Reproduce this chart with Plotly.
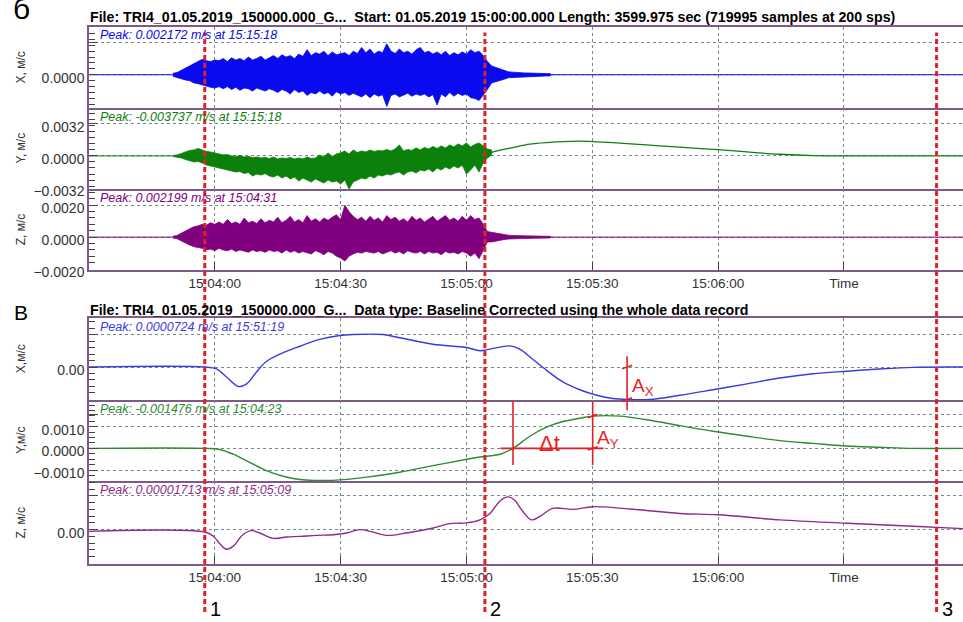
import plotly.graph_objects as go

# time axis: seconds after 15:00:00
T0, T1 = 210.0, 418.4
tick_t = [240, 270, 300, 330, 360, 390]
tick_labels = ["15:04:00", "15:04:30", "15:05:00", "15:05:30", "15:06:00", "Time"]

# red dashed picks
pick_t = [237.6, 304.4, 412.1]
pick_labels = ["1", "2", "3"]

# ---- panel A: raw records, per-second envelope (mm/s) ----
env_t = list(range(230, 321))
ax_hi = [0.1, 0.15, 0.3, 0.45, 0.55, 0.75, 0.9, 1.05, 0.95, 0.9,
         1.0, 0.95, 1.1, 0.9, 1.15, 1.0, 1.1, 0.95, 1.2, 1.0,
         1.1, 1.25, 1.0, 1.15, 1.3, 1.1, 1.35, 1.2, 1.3, 1.1,
         1.4, 1.25, 1.7, 1.3, 1.5, 1.4, 1.6, 1.3, 1.55, 1.35,
         1.45, 1.5, 1.3, 1.6, 1.45, 1.85, 1.5, 1.75, 1.4, 1.6,
         1.5, 2.1, 1.6, 1.45, 1.75, 1.5, 1.6, 1.4, 1.7, 1.85,
         1.5, 1.6, 1.4, 1.55, 1.35, 1.6, 1.3, 1.5, 1.35, 1.55,
         1.4, 1.7, 1.5, 1.6, 1.3, 0.9, 0.6, 0.5, 0.4, 0.35,
         0.2, 0.18, 0.15, 0.14, 0.12, 0.12, 0.1, 0.1, 0.09, 0.08,
         0.08]
ax_lo = [-0.1, -0.15, -0.25, -0.35, -0.4, -0.55, -0.6, -0.7, -0.75, -0.85,
         -0.9, -0.8, -0.95, -0.8, -1.0, -0.85, -1.05, -0.9, -0.95, -1.1,
         -0.9, -1.0, -1.1, -0.95, -1.05, -1.2, -1.0, -1.1, -1.3, -1.0,
         -1.2, -1.1, -1.4, -1.2, -1.3, -1.1, -1.3, -1.2, -1.45, -1.15,
         -1.3, -1.2, -1.4, -1.25, -1.35, -1.5, -1.3, -1.55, -1.3, -1.45,
         -1.35, -2.15, -1.4, -1.3, -1.5, -1.35, -1.25, -1.45, -1.3, -1.4,
         -1.3, -1.5, -1.35, -2.05, -1.3, -1.5, -1.2, -1.45, -1.25, -1.4,
         -1.3, -1.55, -1.6, -1.75, -1.4, -1.0, -0.55, -0.45, -0.4, -0.3,
         -0.2, -0.18, -0.15, -0.14, -0.12, -0.1, -0.1, -0.1, -0.09, -0.08,
         -0.08]

ay_t = list(range(230, 307))
ay_hi = [0.05, 0.1, 0.25, 0.4, 0.55, 0.6, 0.75, 0.6, 0.45, 0.4,
         0.3, 0.2, 0.1, 0.15, 0.0, -0.05, 0.05, -0.1, -0.05, -0.15,
         -0.1, -0.2, -0.15, -0.25, -0.1, -0.3, -0.2, -0.25, -0.15, -0.3,
         -0.2, -0.3, -0.1, -0.25, -0.2, 0.1, -0.1, 0.3, -0.05, 0.2,
         0.3, 0.5, 0.2, 0.6, 0.35, 0.5, 0.4, 0.6, 0.45, 0.55,
         0.5, 0.65, 0.5, 0.7, 1.1, 0.5, 0.65, 0.55, 0.8, 0.6,
         0.85, 0.7, 0.95, 0.75, 1.0, 0.8, 1.1, 0.9, 1.2, 1.0,
         1.3, 0.9, 1.15, 1.3, 1.0, 0.7, 0.6]
ay_lo = [-0.05, -0.1, -0.2, -0.35, -0.5, -0.6, -0.55, -0.7, -0.9, -1.0,
         -1.1, -1.2, -1.3, -1.4, -1.5, -1.6, -1.55, -1.75, -1.65, -2.0,
         -1.8, -1.9, -1.75, -2.0, -2.1, -1.9, -2.2, -2.0, -2.3, -2.1,
         -2.5, -2.2, -2.4, -2.6, -2.3, -2.5, -2.7, -2.4, -2.6, -2.5,
         -2.8, -2.4, -3.3, -2.6, -2.4, -2.2, -2.3, -2.0, -2.2, -1.9,
         -2.0, -1.8, -1.9, -1.7, -1.6, -1.9, -1.6, -1.5, -1.7, -1.4,
         -1.5, -1.3, -1.6, -1.2, -1.4, -1.1, -1.3, -1.0, -1.2, -0.9,
         -1.8, -1.4, -0.9, -1.6, -0.7, -0.2, 0.1]
ay_tail_t = [306, 308, 311, 315.1, 319.2, 326.3, 330.1, 334.9, 343.0, 350.9,
             360.0, 366.9, 374.7, 382.6, 391.4, 418.4]
ay_tail = [0.35, 0.57, 0.83, 1.17, 1.33, 1.47, 1.43, 1.33, 1.1, 0.87,
           0.63, 0.4, 0.17, 0.03, 0.0, 0.0]

az_hi = [0.05, 0.1, 0.25, 0.4, 0.55, 0.65, 0.7, 0.8, 0.75, 0.9,
         0.8, 0.95, 0.8, 1.1, 0.85, 0.95, 0.8, 1.2, 0.9, 1.0,
         0.85, 1.15, 0.9, 1.05, 0.95, 1.25, 0.9, 1.05, 1.3, 0.95,
         1.1, 0.9, 1.35, 1.0, 1.15, 0.95, 1.2, 1.05, 1.25, 1.4,
         1.1, 2.0, 1.6, 1.3, 1.1, 1.25, 1.0, 1.3, 1.05, 1.2,
         0.95, 1.35, 1.1, 1.25, 1.0, 1.15, 0.95, 1.3, 1.05, 1.2,
         0.95, 1.1, 1.3, 1.0, 1.15, 1.35, 1.05, 1.2, 1.0, 1.3,
         1.05, 1.35, 1.1, 1.2, 0.8, 0.35, 0.3, 0.25, 0.2, 0.15,
         0.12, 0.1, 0.1, 0.09, 0.08, 0.08, 0.07, 0.06, 0.06, 0.05,
         0.05]
az_lo = [-0.05, -0.1, -0.2, -0.35, -0.5, -0.6, -0.65, -0.7, -0.8, -0.75,
         -0.85, -0.7, -0.8, -0.85, -0.75, -0.9, -0.8, -0.85, -0.95, -0.8,
         -0.9, -0.85, -0.95, -0.8, -0.9, -0.85, -1.0, -0.8, -0.95, -0.85,
         -1.0, -0.9, -0.95, -1.05, -0.85, -0.95, -1.1, -0.9, -1.0, -1.2,
         -1.3, -1.5, -1.2, -1.05, -0.95, -1.0, -0.9, -0.95, -1.0, -0.9,
         -1.05, -0.95, -0.85, -1.0, -0.9, -1.05, -0.85, -0.95, -1.0, -0.9,
         -1.05, -0.9, -1.0, -0.95, -1.1, -0.9, -1.0, -0.95, -1.05, -0.9,
         -1.0, -1.2, -1.0, -1.35, -0.8, -0.3, -0.3, -0.25, -0.2, -0.15,
         -0.12, -0.1, -0.1, -0.09, -0.08, -0.08, -0.07, -0.06, -0.06, -0.05,
         -0.05]

# ---- panel B: baseline corrected ----
bx_t = [210, 237.6, 240.4, 242.8, 245.6, 247.6, 249.9, 252.3, 256.3, 260.3,
        265.0, 269.8, 272.9, 280.1, 284.1, 292.0, 300.1, 303.2, 305.6, 310.4,
        312.7, 315.8, 319.2, 323.0, 327.0, 331.1, 334.9, 338.3, 343.7, 350.9,
        358.8, 366.9, 374.7, 382.6, 390.7, 398.6, 406.5, 418.4]
bx_v = [0, 0, -0.06, -0.31, -0.6, -0.52, -0.16, 0.17, 0.44, 0.64,
        0.85, 0.97, 1.0, 1.0, 0.9, 0.7, 0.6, 0.5, 0.55, 0.65,
        0.55, 0.24, -0.11, -0.46, -0.7, -0.87, -0.97, -1.0, -1.0, -0.87,
        -0.7, -0.52, -0.34, -0.21, -0.13, -0.06, -0.01, 0]

by_t = [210, 237.6, 241.2, 244.4, 248.3, 252.3, 256.3, 260.3, 264.3, 268.1,
        276.2, 284.1, 292.0, 300.1, 303.2, 308.0, 311.1, 315.1, 319.2, 323.0,
        327.0, 330.1, 336.6, 343.0, 350.9, 358.8, 366.9, 374.7, 382.6, 390.7,
        398.6, 406.5, 418.4]
by_v = [0, 0, -0.05, -0.27, -0.65, -1.03, -1.29, -1.44, -1.48, -1.48,
        -1.33, -1.10, -0.80, -0.50, -0.40, -0.27, 0.0, 0.56, 0.99, 1.24,
        1.39, 1.49, 1.49, 1.32, 1.05, 0.79, 0.56, 0.36, 0.23, 0.11,
        0.05, 0, 0]

bz_t = [210, 237.6, 239.6, 241.2, 242.8, 244.4, 246.7, 248.8, 250.7, 253.9,
        257.1, 260.3, 264.3, 268.2, 271.4, 274.6, 277.0, 281.0, 285.7, 292.1,
        296.0, 300.0, 303.2, 305.6, 308.0, 309.9, 311.5, 313.5, 315.5, 317.5,
        320.6, 325.4, 330.2, 339.0, 350.9, 360.0, 374.7, 390.7, 406.6, 418.4]
bz_v = [-0.05, -0.07, -0.19, -0.42, -0.58, -0.49, -0.15, -0.03, -0.1, -0.26,
        -0.22, -0.2, -0.17, -0.15, -0.10, 0.0, -0.05, -0.17, -0.10, 0.05,
        0.18, 0.2, 0.29, 0.48, 0.85, 0.97, 0.87, 0.53, 0.29, 0.39,
        0.63, 0.60, 0.68, 0.61, 0.48, 0.44, 0.29, 0.19, 0.10, 0.03]

# tick labels per channel (values in mm/s, labels in m/s)
y_tickvals = [[0, 2.2], [-3.2, 0, 3.2], [-2, 0, 2],
              [0, 1], [-1, 0, 1, 1.55], [0, 1]]
y_ticktext = [["0.0000", ""], ["\u22120.0032", "0.0000", "0.0032"],
              ["\u22120.0020", "0.0000", "0.0020"],
              ["0.00", ""], ["\u22120.0010", "0.0000", "0.0010", ""], ["0.00", ""]]
y_titles = ["X, м/с", "Y, м/с", "Z, м/с", "X,м/с", "Y,м/с", "Z, м/с"]
peak_texts = ["Peak: 0.002172 m/s at 15:15:18", "Peak: -0.003737 m/s at 15:15:18",
              "Peak: 0.002199 m/s at 15:04:31", "Peak: 0.0000724 m/s at 15:51:19",
              "Peak: -0.001476 m/s at 15:04:23", "Peak: 0.00001713 m/s at 15:05:09"]
title_a = "File: TRI4_01.05.2019_150000.000_G...  Start: 01.05.2019 15:00:00.000 Length: 3599.975 sec (719995 samples at 200 sps)"
title_b = "File: TRI4_01.05.2019_150000.000_G...  Data type: Baseline Corrected using the whole data record"

# ---- layout geometry (pixels) ----
W, H, L = 963, 622, 89
panel_px = [(27, 110), (110, 192), (192, 274), (323, 407), (407, 489), (489, 573)]
zero_px = [76, 158.5, 241, 373, 455.7, 538.3]
px_unit = [15, 10.2, 16.25, 33, 22, 34.3]
minor_dt = [0.4, 0.6, 0.4, 0.2, 0.25, 0.2]

raw_col = ["#0a0aee", "#0b800b", "#800080"]
cor_col = ["#3a3ae0", "#2e8b2e", "#8e2a8e"]
RED = "#e41f26"
FRAME = "#7d5a8a"
GRID = "#6f8a8a"
FONT = "Liberation Sans, Arial, sans-serif"


def py(px):
    return 1 - px / H


def val_px(i, v):
    return zero_px[i] - v * px_unit[i]


def band(t, hi, lo):
    # closed outline of the record's envelope
    return list(t) + list(t)[::-1], list(hi) + list(lo)[::-1]


fig = go.Figure()

for k, (tt, hi, lo, end) in enumerate([(env_t, ax_hi, ax_lo, T1),
                                       (ay_t, ay_hi, ay_lo, env_t[0]),
                                       (env_t, az_hi, az_lo, T1)]):
    n = "" if k == 0 else str(k + 1)
    fig.add_trace(go.Scatter(x=[T0, end], y=[0, 0], mode="lines",
                             line=dict(color=raw_col[k], width=1),
                             xaxis="x" + n, yaxis="y" + n))
    bx, by = band(tt, hi, lo)
    fig.add_trace(go.Scatter(x=bx, y=by, mode="lines", fill="toself",
                             fillcolor=raw_col[k], line=dict(color=raw_col[k], width=0.8),
                             xaxis="x" + n, yaxis="y" + n))
fig.add_trace(go.Scatter(x=ay_tail_t, y=ay_tail, mode="lines", line_shape="spline",
                         line=dict(color=raw_col[1], width=1.3), xaxis="x2", yaxis="y2"))

for k, (tt, vv) in enumerate([(bx_t, bx_v), (by_t, by_v), (bz_t, bz_v)]):
    n = k + 4
    fig.add_trace(go.Scatter(x=tt, y=vv, mode="lines", line_shape="spline",
                             line=dict(color=cor_col[k], width=1.4),
                             xaxis="x%d" % n, yaxis="y%d" % n))

layout = dict(width=W, height=H, margin=dict(l=L, r=0, t=0, b=0),
              paper_bgcolor="white", plot_bgcolor="white", showlegend=False,
              font=dict(family=FONT, color="#333333"))
for i in range(6):
    n = "" if i == 0 else str(i + 1)
    top, bot = panel_px[i]
    bottom_row = i in (2, 5)
    layout["xaxis" + n] = dict(
        domain=[0, 1], range=[T0, T1], anchor="y" + n,
        tickmode="array", tickvals=tick_t, ticktext=tick_labels,
        showticklabels=bottom_row, ticks="inside" if bottom_row else "",
        ticklen=8, tickcolor="#444444", tickfont=dict(size=13.5, color="#333333"),
        showgrid=True, gridcolor=GRID, griddash="dot", gridwidth=1,
        showline=True, mirror=i in (0, 3), linecolor=FRAME, linewidth=1.5,
        zeroline=False)
    layout["yaxis" + n] = dict(
        domain=[py(bot), py(top)], anchor="x" + n,
        range=[-(bot - zero_px[i]) / px_unit[i], (zero_px[i] - top) / px_unit[i]],
        tickmode="array", tickvals=y_tickvals[i], ticktext=y_ticktext[i],
        ticks="inside", ticklen=9, tickcolor="#444444", ticklabelshift=3,
        tickfont=dict(size=14, color="#333333"),
        minor=dict(tickmode="linear", tick0=0, dtick=minor_dt[i], ticks="inside",
                   ticklen=6, tickcolor="#444444", showgrid=False),
        showgrid=True, gridcolor=GRID, griddash="dot", gridwidth=1,
        showline=True, mirror=False, linecolor=FRAME, linewidth=1.5, zeroline=False)
fig.update_layout(**layout)

ann = []
for i in range(6):
    top, bot = panel_px[i]
    ann.append(dict(text=y_titles[i], xref="paper", yref="paper", x=-(L - 21) / (W - L),
                    y=py((top + bot) / 2), xanchor="center", yanchor="middle",
                    textangle=-90, showarrow=False, font=dict(size=12, color="#333333")))
    col = raw_col[i] if i < 3 else cor_col[i - 3]
    ann.append(dict(text="<i>%s</i>" % peak_texts[i], xref="paper", yref="paper",
                    x=9 / (W - L), y=py(top + 9), xanchor="left", yanchor="middle",
                    showarrow=False, font=dict(size=12.5, color=col)))
ann.append(dict(text="<b>%s</b>" % title_a, xref="paper", yref="paper", x=-1 / (W - L),
                y=py(17), xanchor="left", yanchor="middle", showarrow=False,
                font=dict(size=14.2, color="black")))
ann.append(dict(text="<b>%s</b>" % title_b, xref="paper", yref="paper", x=-1 / (W - L),
                y=py(315), xanchor="left", yanchor="middle", showarrow=False,
                font=dict(size=14.2, color="black")))
ann.append(dict(text="б", xref="paper", yref="paper", x=-(L - 21) / (W - L), y=py(9),
                xanchor="center", yanchor="middle", showarrow=False,
                font=dict(size=30, color="black")))
ann.append(dict(text="B", xref="paper", yref="paper", x=-(L - 21) / (W - L), y=py(318),
                xanchor="center", yanchor="middle", showarrow=False,
                font=dict(size=21, color="black")))

shapes = []
for t, lab in zip(pick_t, pick_labels):
    shapes.append(dict(type="line", xref="x", yref="paper", x0=t, x1=t, y0=0, y1=py(33),
                       line=dict(color=RED, width=3, dash="5px,3px")))
    ann.append(dict(text=lab, xref="x", yref="paper", x=t, xshift=11, y=py(619),
                    xanchor="center", yanchor="middle", showarrow=False,
                    font=dict(size=20, color="black")))

# Ax, Ay and dt marks on the corrected records
i_min = bx_v.index(min(bx_v))
t_ax = bx_t[i_min]
i_max = by_v.index(max(by_v))
t_ay = by_t[i_max]
t_zero = next(by_t[k] for k in range(by_v.index(min(by_v)), len(by_v)) if by_v[k] >= 0)
red = dict(color=RED, width=1.6)


def vline(xr, t, p0, p1):
    shapes.append(dict(type="line", xref=xr, yref="paper", x0=t, x1=t,
                       y0=py(p0), y1=py(p1), line=red))


def tickmark(xr, t, p):
    shapes.append(dict(type="line", xref=xr, yref="paper", x0=t - 1.2, x1=t + 1.2,
                       y0=py(p + 1.7), y1=py(p - 1.7), line=red))


vline("x4", t_ax, val_px(3, 0) - 11, val_px(3, bx_v[i_min]) + 11)
tickmark("x4", t_ax, val_px(3, 0))
tickmark("x4", t_ax, val_px(3, bx_v[i_min]))
vline("x5", t_ay, val_px(4, by_v[i_max]) - 15, val_px(4, 0) + 17)
vline("x5", t_zero, val_px(4, by_v[i_max]) - 15, val_px(4, 0) + 17)
tickmark("x5", t_ay, val_px(4, by_v[i_max]))
tickmark("x5", t_ay, val_px(4, 0))
shapes.append(dict(type="line", xref="x5", yref="paper", x0=t_zero - 3, x1=t_ay + 2.6,
                   y0=py(val_px(4, 0)), y1=py(val_px(4, 0)), line=red))
ann.append(dict(text="A<sub>X</sub>", xref="x4", yref="paper", x=t_ax, xshift=16,
                y=py(393), xanchor="center", yanchor="middle", showarrow=False,
                font=dict(size=19, color=RED)))
ann.append(dict(text="A<sub>Y</sub>", xref="x5", yref="paper", x=t_ay, xshift=15,
                y=py(446), xanchor="center", yanchor="middle", showarrow=False,
                font=dict(size=19, color=RED)))
ann.append(dict(text="\u0394t", xref="x5", yref="paper", x=(t_zero + t_ay) / 2, xshift=-3,
                y=py(451), xanchor="center", yanchor="middle", showarrow=False,
                font=dict(size=22, color=RED)))

fig.update_layout(annotations=ann, shapes=shapes)
fig.write_html("out.html", config={"displayModeBar": False},
               post_script="document.body.style.margin='0';")
